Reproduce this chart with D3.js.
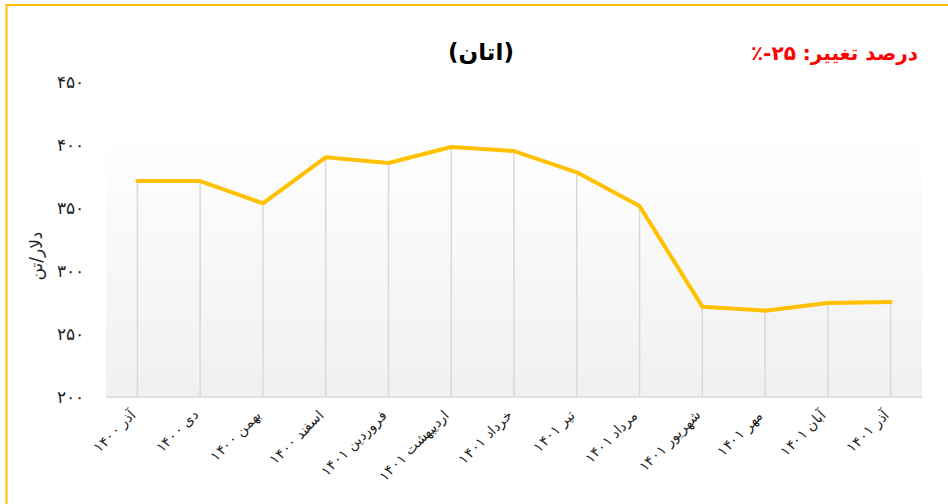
<!DOCTYPE html>
<html>
<head>
<meta charset="utf-8">
<script src="https://cdn.jsdelivr.net/npm/d3@7"></script>
<style>
  body { margin: 0; background: #fff; }
  svg { display: block; font-family: "DejaVu Sans", sans-serif; }
</style>
</head>
<body>
<div id="chart"></div>
<script>
// data
const months = ["آذر ۱۴۰۰", "دی ۱۴۰۰", "بهمن ۱۴۰۰", "اسفند ۱۴۰۰", "فروردین ۱۴۰۱", "اردیبهشت ۱۴۰۱",
    "خرداد ۱۴۰۱", "تیر ۱۴۰۱", "مرداد ۱۴۰۱", "شهریور ۱۴۰۱", "مهر ۱۴۰۱", "آبان ۱۴۰۱", "آذر ۱۴۰۱"];
const prices = [371.4, 371.4, 353.7, 390.2, 385.7, 398.4, 395.2, 378.3, 351.6, 271.7, 268.5, 274.6, 275.4];
const yTicks = [200, 250, 300, 350, 400, 450];
const faDigits = "۰۱۲۳۴۵۶۷۸۹";
const toFa = n => String(n).replace(/\d/g, d => faDigits[d]);

const width = 948, height = 504;
const plot = { left: 106, right: 922, top: 82, bottom: 397 };

const svg = d3.select("#chart").append("svg")
    .attr("width", width)
    .attr("height", height);

// outer frame
svg.append("rect")
    .attr("x", 6.5).attr("y", 5)
    .attr("width", 960).attr("height", 520)
    .attr("fill", "none")
    .attr("stroke", "#FFC000")
    .attr("stroke-width", 2);

// gradient background for plot area
const grad = svg.append("defs").append("linearGradient")
    .attr("id", "bg").attr("x1", 0).attr("y1", 0).attr("x2", 0).attr("y2", 1);
grad.append("stop").attr("offset", "0%").attr("stop-color", "#ffffff");
grad.append("stop").attr("offset", "100%").attr("stop-color", "#f0f0f0");

const xScale = d3.scaleBand().domain(months).range([plot.left, plot.right]);
const yScale = d3.scaleLinear().domain([200, 450]).range([plot.bottom, plot.top]);
const cx = d => xScale(d) + xScale.bandwidth() / 2;

svg.append("rect")
    .attr("x", plot.left).attr("y", 128)
    .attr("width", plot.right - plot.left)
    .attr("height", plot.bottom - 128)
    .attr("fill", "url(#bg)");

// drop lines
svg.selectAll(".drop")
    .data(months)
    .enter()
    .append("line")
    .attr("class", "drop")
    .attr("x1", d => cx(d)).attr("x2", d => cx(d))
    .attr("y1", plot.bottom)
    .attr("y2", (d, i) => yScale(prices[i]))
    .attr("stroke", "#d9d9d9")
    .attr("stroke-width", 1.5);

// baseline
svg.append("line")
    .attr("x1", plot.left).attr("x2", plot.right)
    .attr("y1", plot.bottom).attr("y2", plot.bottom)
    .attr("stroke", "#d9d9d9")
    .attr("stroke-width", 1.5);

// y axis labels
const yAxis = d3.axisLeft(yScale).tickValues(yTicks).tickSize(0).tickPadding(0).tickFormat(toFa);
const yG = svg.append("g")
    .attr("transform", "translate(84,0)")
    .call(yAxis);
yG.select(".domain").remove();
yG.selectAll("text")
    .attr("font-size", 17)
    .attr("fill", "#222")
    .attr("direction", "ltr");

svg.append("text")
    .attr("transform", "translate(42,256) rotate(-90)")
    .attr("text-anchor", "middle")
    .attr("direction", "rtl")
    .attr("font-size", 17)
    .attr("fill", "#222")
    .text("دلار/تن");

// x axis labels
const xAxis = d3.axisBottom(xScale).tickSize(0).tickPadding(0);
const xG = svg.append("g")
    .attr("transform", `translate(0, ${plot.bottom})`)
    .call(xAxis);
xG.select(".domain").remove();
xG.selectAll("text")
    .attr("font-size", 14)
    .attr("fill", "#222")
    .attr("direction", "rtl")
    .attr("text-anchor", "start")
    .attr("dy", 0)
    .attr("y", 0)
    .attr("transform", "translate(-1,19) rotate(-45)");

// price line
const line = d3.line()
    .x((d, i) => cx(months[i]))
    .y(d => yScale(d));

svg.append("path")
    .datum(prices)
    .attr("d", line)
    .attr("fill", "none")
    .attr("stroke", "#FFC000")
    .attr("stroke-width", 4)
    .attr("stroke-linejoin", "round")
    .attr("stroke-linecap", "round");

// titles
svg.append("text")
    .attr("x", 481).attr("y", 60)
    .attr("text-anchor", "middle")
    .attr("font-size", 23)
    .attr("font-weight", "bold")
    .attr("fill", "#000")
    .text("(اتان)");

svg.append("text")
    .attr("x", 918).attr("y", 60)
    .attr("direction", "rtl")
    .attr("text-anchor", "start")
    .attr("font-size", 20)
    .attr("font-weight", "bold")
    .attr("fill", "#ff0000")
    .text("درصد تغییر: ۲۵-٪");
</script>
</body>
</html>
